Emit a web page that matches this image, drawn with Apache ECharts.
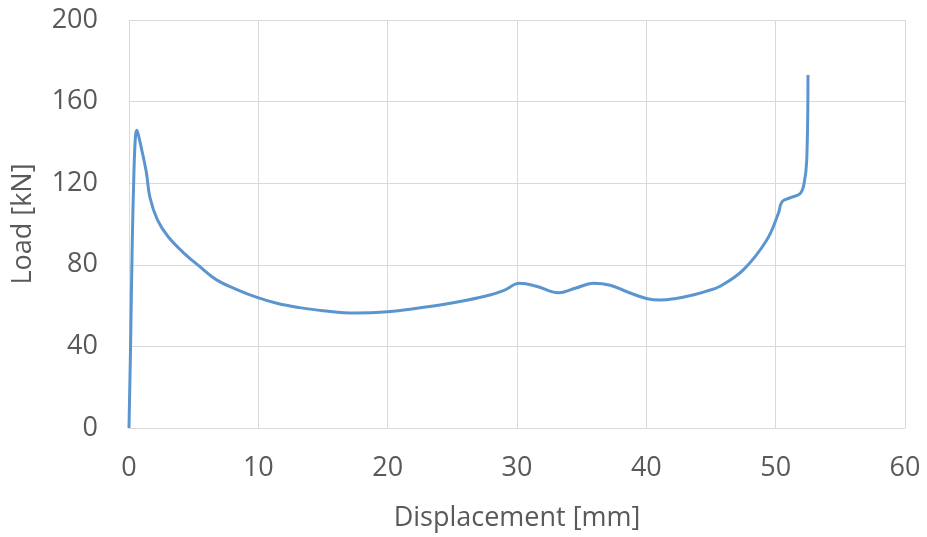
<!DOCTYPE html>
<html>
<head>
<meta charset="utf-8">
<script src="https://cdn.jsdelivr.net/npm/echarts@6/dist/echarts.min.js"></script>
<style>
html,body{margin:0;padding:0;background:#fff;}
#chart{width:927px;height:537px;}
</style>
</head>
<body>
<div id="chart"></div>
<script>
const displacement = [0, 0.12, 0.25, 0.38, 0.5, 0.6, 0.75, 1.1, 1.35, 1.62, 2.2, 3, 4.2, 5.5, 6.8, 8.3, 9.9, 11.5, 13.2, 15, 17.5, 20, 22, 24.05, 26, 27.9, 29, 30.2, 31.5, 33.2, 34.5, 35.9, 37.2, 38.5, 40, 41.1, 42.3, 43.6, 44.6, 45.7, 47.5, 49.3, 50.2, 50.5, 51.2, 51.9, 52.2, 52.4, 52.5];
const load = [0, 40, 90, 125, 143, 146, 143, 133, 125, 113, 102, 94, 86, 79, 72.5, 68, 64, 61, 59, 57.5, 56.4, 57, 58.5, 60.3, 62.5, 65.2, 67.5, 70.9, 69.5, 66.3, 68.5, 70.9, 70, 66.8, 63.5, 62.7, 63.5, 65.2, 67, 69.5, 77.5, 92, 105, 111, 113, 115, 120, 131, 173];
const xTicks = [0, 10, 20, 30, 40, 50, 60];
const yTicks = [0, 40, 80, 120, 160, 200];

const points = displacement.map((x, i) => [x, load[i]]);
const chart = echarts.init(document.getElementById('chart'));
const font = "'Open Sans', 'Noto Sans', sans-serif";
chart.setOption({
  animation: false,
  grid: {left: 129, top: 20, width: 776, height: 408, containLabel: false, outerBoundsMode: 'none'},
  xAxis: {
    type: 'value', min: xTicks[0], max: xTicks[xTicks.length - 1], interval: 10,
    name: 'Displacement [mm]', nameLocation: 'middle', nameGap: 77,
    nameTextStyle: {color: '#595959', fontSize: 27, fontFamily: font},
    axisLine: {show: true, lineStyle: {color: '#d9d9d9', width: 1}},
    axisTick: {show: false},
    axisLabel: {color: '#595959', fontSize: 27, fontFamily: font, margin: 27},
    splitLine: {show: true, lineStyle: {color: '#d9d9d9', width: 1}}
  },
  yAxis: {
    type: 'value', min: yTicks[0], max: yTicks[yTicks.length - 1], interval: 40,
    name: 'Load [kN]', nameLocation: 'middle', nameGap: 92, nameRotate: 90,
    nameTextStyle: {color: '#595959', fontSize: 27, fontFamily: font},
    axisLine: {show: true, lineStyle: {color: '#d9d9d9', width: 1}},
    axisTick: {show: false},
    axisLabel: {color: '#595959', fontSize: 27, fontFamily: font, margin: 31},
    splitLine: {show: true, lineStyle: {color: '#d9d9d9', width: 1}}
  },
  series: [{
    type: 'line', data: points, showSymbol: false, smooth: 0.4,
    lineStyle: {color: '#5b95d0', width: 3}
  }]
});
</script>
</body>
</html>
